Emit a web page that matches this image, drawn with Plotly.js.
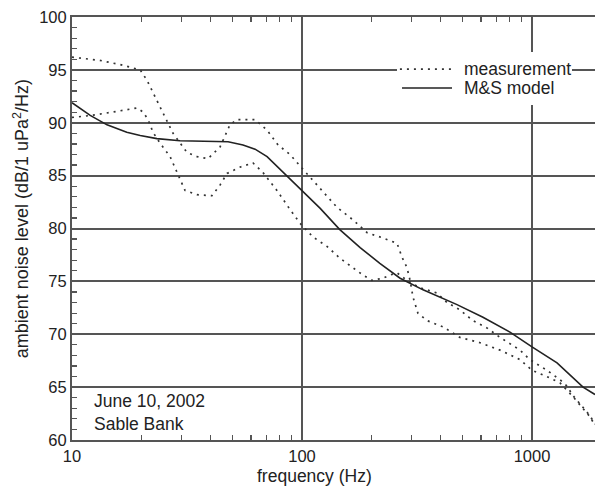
<!DOCTYPE html>
<html><head><meta charset="utf-8">
<script src="https://cdn.plot.ly/plotly-3.0.1.min.js"></script>
<style>html,body{margin:0;padding:0;background:#fff}</style>
</head><body>
<div id="chart" style="width:595px;height:486px"></div>
<script>
// Data
const freqModel = [10, 12, 14.2, 17.3, 19.8, 23.4, 29.5, 41, 47.7, 55.4, 62.5, 70.5, 86, 98, 120, 146, 179, 218, 267, 336, 472, 612, 802, 1000, 1285, 1667, 1879];
const levelModel = [91.9, 90.7, 89.8, 89.1, 88.8, 88.5, 88.3, 88.2, 88.2, 87.9, 87.5, 86.8, 85.0, 83.8, 81.9, 79.9, 78.2, 76.7, 75.3, 74.2, 72.8, 71.6, 70.2, 68.8, 67.3, 65.0, 64.3];

const freqMeasA = [10, 13.2, 16.2, 19.8, 21.2, 24.1, 27.5, 31.6, 35, 39, 44, 48.6, 52.1, 62.5, 70.5, 78.7, 88.7, 101, 120, 142, 167, 192, 225, 259, 272, 286, 295, 304, 319, 349, 410, 486, 594, 726, 887, 1000, 1161, 1324, 1507, 1649, 1786, 1879];
const levelMeasA = [96.2, 95.9, 95.5, 95.0, 94.0, 91.5, 89.0, 87.2, 86.8, 86.6, 87.7, 89.8, 90.3, 90.3, 89.3, 87.9, 87.0, 85.6, 83.8, 82.0, 80.8, 79.6, 79.1, 78.6, 77.3, 76.3, 75.1, 73.5, 72.0, 71.3, 70.7, 69.7, 69.2, 68.5, 67.6, 66.6, 66.0, 65.4, 64.1, 63.1, 62.2, 61.4];

const freqMeasB = [10, 12.2, 14.9, 19.2, 20.4, 21.4, 22.5, 24.1, 26.7, 29.3, 31, 34.9, 40.6, 44, 47.2, 53.7, 61.2, 67.6, 77.8, 88.7, 98, 111.6, 128.5, 146, 167, 184, 201, 225, 241, 259, 286, 326, 386, 427, 486, 553, 637, 726, 887, 979, 1161, 1324, 1419, 1507, 1649, 1786, 1879];
const levelMeasB = [90.5, 90.7, 91.0, 91.4, 91.0, 90.3, 89.1, 88.1, 86.8, 84.9, 83.6, 83.2, 83.1, 84.1, 85.2, 85.8, 86.2, 85.3, 83.6, 81.8, 80.5, 79.2, 78.3, 77.2, 76.3, 75.6, 75.1, 75.3, 75.6, 75.8, 75.1, 74.4, 73.9, 73.0, 72.3, 71.3, 70.6, 69.7, 68.5, 67.6, 66.6, 65.7, 65.1, 64.2, 63.2, 62.3, 61.5];

const xTickVals = [10, 100, 1000];
const xTickText = ['10', '100', '1000'];
const yTickVals = [60, 65, 70, 75, 80, 85, 90, 95, 100];
const seriesNames = ['measurement', 'M&S model'];

const ink = '#333';
const dotStyle = {color: ink, width: 1.7, dash: '2px,5px'};
const solidStyle = {color: '#222', width: 1.6};
const gridCol = '#555';

const traces = [
  {x: freqMeasA, y: levelMeasA, mode: 'lines', name: seriesNames[0], line: dotStyle},
  {x: freqMeasB, y: levelMeasB, mode: 'lines', name: seriesNames[0], line: dotStyle},
  {x: freqModel, y: levelModel, mode: 'lines', name: seriesNames[1], line: solidStyle}
];

// legend box (drawn by hand so that row spacing matches the reference)
const lg = {x0: 0.6214, x1: 0.956, y0: 0.792, y1: 0.917, sx0: 0.627, sx1: 0.7266, tx: 0.7457, r1: 0.877, r2: 0.832};

const layout = {
  width: 595, height: 486,
  paper_bgcolor: '#fff', plot_bgcolor: '#fff',
  font: {family: 'Liberation Sans, Arial, sans-serif', size: 17.5, color: '#222'},
  margin: {l: 72, r: 0, t: 17, b: 46},
  showlegend: false,
  xaxis: {
    type: 'log', range: [1, Math.log10(1879)],
    tickmode: 'array', tickvals: xTickVals, ticktext: xTickText,
    ticks: 'inside', ticklen: 5, tickwidth: 1, tickcolor: gridCol,
    showgrid: true, gridcolor: gridCol, gridwidth: 2,
    showline: true, linecolor: gridCol, linewidth: 2, mirror: 'allticks', zeroline: false,
    minor: {tickmode: 'linear', dtick: 'D1', ticks: 'inside', ticklen: 5, tickwidth: 1.2, tickcolor: gridCol, showgrid: false},
    tickfont: {size: 16.5}
  },
  yaxis: {
    range: [60, 100], tickmode: 'array', tickvals: yTickVals,
    ticks: 'inside', ticklen: 5, tickwidth: 1, tickcolor: gridCol,
    showgrid: true, gridcolor: gridCol, gridwidth: 2,
    showline: true, linecolor: gridCol, linewidth: 2, mirror: false, zeroline: false,
    minor: {tickmode: 'linear', tick0: 60, dtick: 1, ticks: 'inside', ticklen: 5, tickwidth: 1.2, tickcolor: gridCol, showgrid: false},
    tickfont: {size: 16.5}
  },
  shapes: [
    {type: 'rect', xref: 'paper', yref: 'paper', x0: lg.x0, x1: lg.x1, y0: lg.y0, y1: lg.y1, fillcolor: '#fff', line: {width: 0}, layer: 'above'},
    {type: 'line', xref: 'paper', yref: 'paper', x0: lg.sx0, x1: lg.sx1, y0: lg.r1, y1: lg.r1, line: dotStyle, layer: 'above'},
    {type: 'line', xref: 'paper', yref: 'paper', x0: lg.sx0 + 0.004, x1: lg.sx1, y0: lg.r2, y1: lg.r2, line: solidStyle, layer: 'above'}
  ],
  annotations: [
    {text: seriesNames[0], xref: 'paper', yref: 'paper', x: lg.tx, y: lg.r1, xanchor: 'left', yanchor: 'middle', showarrow: false},
    {text: seriesNames[1], xref: 'paper', yref: 'paper', x: lg.tx, y: lg.r2, xanchor: 'left', yanchor: 'middle', showarrow: false},
    {text: 'frequency (Hz)', xref: 'paper', yref: 'paper', x: 0.463, y: -0.085, xanchor: 'center', yanchor: 'middle', showarrow: false},
    {text: 'ambient noise level (dB/1 uPa<sup>2</sup>/Hz)', xref: 'paper', yref: 'paper', x: -0.0975, y: 0.522, xanchor: 'center', yanchor: 'middle', textangle: -90, showarrow: false, font: {size: 18}},
    {text: 'June 10, 2002<br>Sable Bank', xref: 'paper', yref: 'paper', x: 0.038, y: 0.065, xanchor: 'left', yanchor: 'middle', align: 'left', showarrow: false}
  ]
};

Plotly.newPlot('chart', traces, layout, {staticPlot: true, displayModeBar: false});
</script></body></html>
